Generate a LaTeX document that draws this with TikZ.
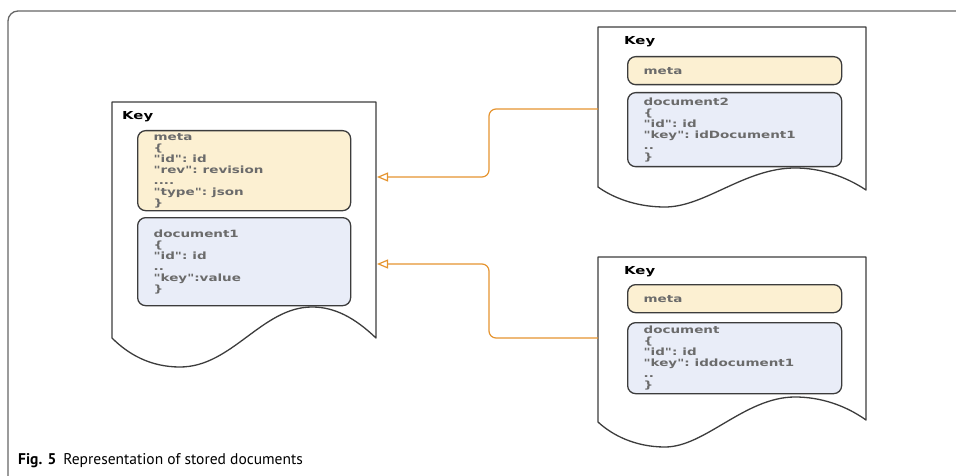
\documentclass[tikz,border=0pt]{standalone}
\usepackage{fontspec}
\setmainfont{PT Sans}
\newfontfamily\boxfont[FakeStretch=1.35]{DejaVu Sans}
\usetikzlibrary{arrows.meta}
\definecolor{metafill}{HTML}{FCF0D2}
\definecolor{docfill}{HTML}{E9EDF8}
\definecolor{boxline}{HTML}{3C3C3C}
\definecolor{boxtext}{HTML}{6B6B6B}
\definecolor{linkorange}{HTML}{E5942F}
\definecolor{framegray}{HTML}{666666}
\tikzset{
  page/.style={draw=boxline, line width=1.3pt, fill=white, line join=round},
  metabox/.style={draw=boxline, line width=1.3pt, fill=metafill, rounded corners=8pt,
    anchor=north west, inner xsep=16pt, inner ysep=0pt, align=left,
    font=\boxfont\bfseries\fontsize{10}{11}\selectfont, text=boxtext},
  docbox/.style={metabox, fill=docfill},
  keylabel/.style={anchor=west, inner sep=0pt, font=\boxfont\bfseries\fontsize{11}{12}\selectfont},
  link/.style={draw=linkorange, line width=1.2pt, rounded corners=7pt,
    -{Triangle[open, length=11pt, width=9pt]}}
}
\begin{document}
\begin{tikzpicture}[x=1pt, y=-1pt, line join=round]
  \useasboundingbox (0,0) rectangle (956,476);
  % frame of the figure
  \draw[framegray, line width=1.3pt, rounded corners=10pt] (8,476) -- (8,11) -- (956,11);
  % stored document on the left
  \draw[page] (112,102) -- (376,102) -- (376,338) .. controls (355,318) and (335,307) .. (312,307)
    .. controls (262,307) and (232,367) .. (180,367) .. controls (150,367) and (128,354) .. (112,338) -- cycle;
  \node[keylabel] (keyL) at (122,117) {Key};
  \node[metabox, text width=181pt, minimum height=80pt] (metaL) at (137,130)
    {meta\\\{\\"id": id\\"rev": revision\\....\\"type": json\\\}};
  \node[docbox, text width=181pt, minimum height=88pt] (bodyL) at (137,217)
    {document1\\\{\\"id": id\\..\\"key":value\\\}};
  % referring document, top
  \draw[page] (598,27) -- (866,27) -- (866,190) .. controls (845,176) and (820,168) .. (795,168)
    .. controls (745,168) and (705,207) .. (665,207) .. controls (635,207) and (612,197) .. (598,187) -- cycle;
  \node[keylabel] (keyA) at (624,42) {Key};
  \node[metabox, text width=182pt, minimum height=28pt] (metaA) at (627,56) {meta};
  \node[docbox, text width=182pt, minimum height=74pt] (bodyA) at (627,92)
    {document2\\\{\\"id": id\\"key": idDocument1\\..\\\}};
  % referring document, bottom
  \draw[page] (598,257) -- (866,257) -- (866,420) .. controls (845,405) and (820,397) .. (795,397)
    .. controls (745,397) and (705,447) .. (665,447) .. controls (635,447) and (612,435) .. (598,422) -- cycle;
  \node[keylabel] (keyB) at (624,272) {Key};
  \node[metabox, text width=182pt, minimum height=28pt] (metaB) at (627,284) {meta};
  \node[docbox, text width=182pt, minimum height=71pt] (bodyB) at (627,322)
    {document\\\{\\"id": id\\"key": iddocument1\\..\\\}};
  % references
  \coordinate (outA) at (598,109);
  \coordinate (outB) at (598,338);
  \coordinate (inA) at (377,177);
  \coordinate (inB) at (377,264);
  \draw[link] (outA) -- (489,109) |- (inA);
  \draw[link] (outB) -- (489,338) |- (inB);
  % caption
  \node[anchor=base west, inner sep=0pt, font=\fontsize{15.5}{18}\selectfont] (caption) at (18,464)
    {\textbf{Fig. 5}\hspace{7pt}Representation of stored documents};
\end{tikzpicture}
\end{document}
